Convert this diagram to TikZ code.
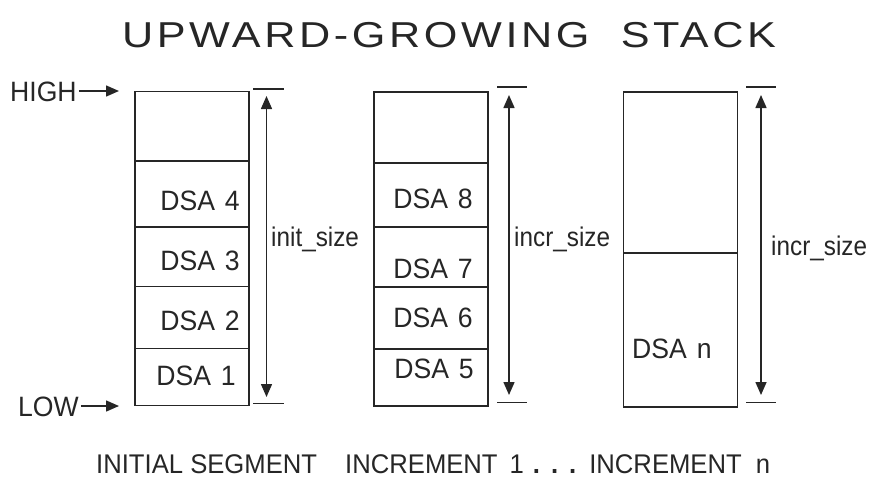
\documentclass[tikz,border=0pt]{standalone}
\usepackage{fontspec}
\setmainfont{Liberation Sans}
\newfontfamily\smallfam[FakeStretch=0.95]{Liberation Sans}
\newfontfamily\narrowfam[FakeStretch=0.9]{Liberation Sans}
\newfontfamily\titlefam[FakeStretch=1.2,LetterSpace=10]{Liberation Sans}
\usetikzlibrary{arrows.meta}
\definecolor{ink}{HTML}{262626}
\begin{document}
\begin{tikzpicture}[x=1pt,y=-1pt,
  cell/.style={draw=ink,line width=1.4pt,inner sep=0pt,minimum width=114pt},
  lbl/.style={inner sep=0pt,text=ink,font=\smallfam\fontsize{28}{30}\selectfont},
  szlbl/.style={inner sep=0pt,text=ink,font=\narrowfam\fontsize{27}{30}\selectfont},
  capt/.style={inner sep=0pt,text=ink,font=\smallfam\fontsize{27}{30}\selectfont},
  tick/.style={draw=ink,line width=1.2pt},
  dim/.style={draw=ink,line width=1.5pt,{Triangle[length=13pt,width=11pt]}-{Triangle[length=13pt,width=11pt]}},
  ptr/.style={draw=ink,line width=1.5pt,-{Triangle[length=13pt,width=11pt]}}]
\useasboundingbox (0,0) rectangle (872,477);
% title
\node[inner sep=0pt,anchor=base,text=ink,font=\titlefam\fontsize{36}{40}\selectfont] (title) at (449,47) {UPWARD-GROWING\ \ STACK};
% box 1
\node[cell,minimum height=69.5pt] (b1e) at (192,126.25) {};
\node[cell,minimum height=66pt] (b14) at (192,194) {};
\node[cell,minimum height=59.5pt] (b13) at (192,256.75) {};
\node[cell,minimum height=62pt] (b12) at (192,317.5) {};
\node[cell,minimum height=57pt] (b11) at (192,377) {};
\node[lbl,anchor=base east] (d4) at (240,210) {DSA\hspace{10pt}4};
\node[lbl,anchor=base east] (d3) at (240,270) {DSA\hspace{10pt}3};
\node[lbl,anchor=base east] (d2) at (240,330) {DSA\hspace{10pt}2};
\node[lbl,anchor=base east] (d1) at (236,385) {DSA\hspace{10pt}1};
% box 2
\node[cell,minimum height=71pt] (b2e) at (431,127.5) {};
\node[cell,minimum height=64pt] (b28) at (431,195) {};
\node[cell,minimum height=60pt] (b27) at (431,257) {};
\node[cell,minimum height=62pt] (b26) at (431,318) {};
\node[cell,minimum height=57pt] (b25) at (431,377.5) {};
\node[lbl,anchor=base east] (d8) at (473,208) {DSA\hspace{10pt}8};
\node[lbl,anchor=base east] (d7) at (473,278) {DSA\hspace{10pt}7};
\node[lbl,anchor=base east] (d6) at (473,327) {DSA\hspace{10pt}6};
\node[lbl,anchor=base east] (d5) at (474,378) {DSA\hspace{10pt}5};
% box 3
\node[cell,minimum height=161pt] (b3e) at (680.5,172.5) {};
\node[cell,minimum height=154pt] (b3n) at (680.5,330) {};
\node[lbl,anchor=base west] (dn) at (632,358) {DSA\hspace{10pt}n};
% dimension ticks and arrows
\coordinate (t1a) at (253,89); \coordinate (t1b) at (284,89);
\coordinate (t1c) at (253,403.5); \coordinate (t1d) at (284,403.5);
\draw[tick] (t1a) -- (t1b); \draw[tick] (t1c) -- (t1d);
\coordinate (a1t) at (266.5,96); \coordinate (a1b) at (266.5,397);
\draw[dim] (a1t) -- (a1b);
\node[szlbl,anchor=base west] (isz) at (271,246) {init\_size};
\coordinate (t2a) at (497,87); \coordinate (t2b) at (527,87);
\coordinate (t2c) at (497,402.5); \coordinate (t2d) at (527,402.5);
\draw[tick] (t2a) -- (t2b); \draw[tick] (t2c) -- (t2d);
\coordinate (a2t) at (509,95); \coordinate (a2b) at (509,395);
\draw[dim] (a2t) -- (a2b);
\node[szlbl,anchor=base west] (csz1) at (514,246) {incr\_size};
\coordinate (t3a) at (746,87); \coordinate (t3b) at (776,87);
\coordinate (t3c) at (746,402.5); \coordinate (t3d) at (776,402.5);
\draw[tick] (t3a) -- (t3b); \draw[tick] (t3c) -- (t3d);
\coordinate (a3t) at (761,95); \coordinate (a3b) at (761,395);
\draw[dim] (a3t) -- (a3b);
\node[szlbl,anchor=base west] (csz2) at (771,255) {incr\_size};
% HIGH / LOW
\node[lbl,anchor=base west] (high) at (10,101) {HIGH};
\coordinate (hightip) at (119,91);
\draw[ptr] ([xshift=2pt]high.east |- hightip) -- (hightip);
\node[lbl,anchor=base west] (low) at (18,416) {LOW};
\coordinate (lowtip) at (119,406);
\draw[ptr] ([xshift=2pt]low.east |- lowtip) -- (lowtip);
% captions
\node[capt,anchor=base west] (cap1) at (96,473) {INITIAL SEGMENT};
\node[capt,anchor=base west] (cap2) at (345,473) {INCREMENT\hspace{12pt}1\hspace{9pt}\textbf{.}\hspace{11pt}\textbf{.}\hspace{11pt}\textbf{.}\hspace{13pt}INCREMENT\hspace{14pt}n};
\end{tikzpicture}
\end{document}
